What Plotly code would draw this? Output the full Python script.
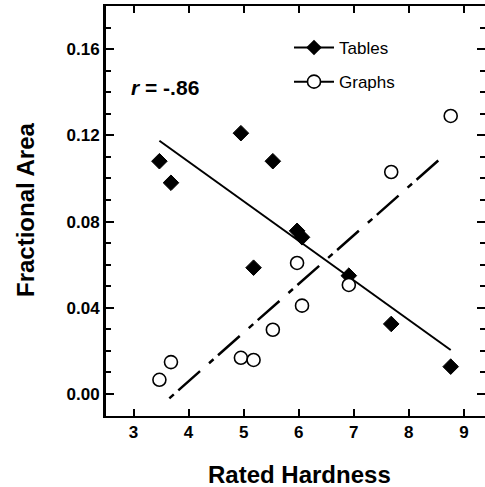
import plotly.graph_objects as go

# Data
rated_hardness = [3.47, 3.68, 4.95, 5.18, 5.53, 5.97, 6.06, 6.91, 7.68, 8.76]
tables_area = [0.108, 0.098, 0.121, 0.0586, 0.108, 0.0757, 0.0727, 0.0549, 0.0325, 0.0127]
graphs_area = [0.0066, 0.0148, 0.0168, 0.0158, 0.0298, 0.0608, 0.041, 0.0506, 0.103, 0.129]

# regression line endpoints
tables_fit_x = [3.47, 8.76]
tables_fit_y = [0.1175, 0.0204]
graphs_fit_x = [3.65, 8.68]
graphs_fit_y = [-0.002, 0.1116]

x_ticks = [3, 4, 5, 6, 7, 8, 9]
y_ticks = [0.00, 0.04, 0.08, 0.12, 0.16]

FONT = "Liberation Sans, Arial, sans-serif"

W, H = 485, 487
L, T, R, B = 106, 6, 0, 71
PW = W - L - R
PH = H - T - B


def px(sx):
    return (sx - L) / PW


def py(sy):
    return (H - B - sy) / PH


fig = go.Figure()

fig.add_trace(go.Scatter(x=tables_fit_x, y=tables_fit_y, mode="lines",
                         line=dict(color="black", width=2), showlegend=False))
fig.add_trace(go.Scatter(x=graphs_fit_x, y=graphs_fit_y, mode="lines",
                         line=dict(color="black", width=2.5, dash="6px,6px,29px,12px"),
                         showlegend=False))
fig.add_trace(go.Scatter(x=rated_hardness, y=tables_area, mode="markers",
                         marker=dict(symbol="diamond", size=12, color="black",
                                     line=dict(color="black", width=1)),
                         showlegend=False))
fig.add_trace(go.Scatter(x=rated_hardness, y=graphs_area, mode="markers",
                         marker=dict(symbol="circle", size=13, color="white",
                                     line=dict(color="black", width=1.6)),
                         showlegend=False))

# legend entries
fig.add_trace(go.Scatter(x=[None], y=[None], mode="lines+markers", name="Tables",
                         legendgroup="a",
                         line=dict(color="black", width=2),
                         marker=dict(symbol="diamond", size=12, color="black")))
fig.add_trace(go.Scatter(x=[None], y=[None], mode="lines+markers", name="Graphs",
                         legendgroup="b",
                         line=dict(color="black", width=2),
                         marker=dict(symbol="circle", size=13, color="white",
                                     line=dict(color="black", width=1.6))))

fig.update_layout(
    width=W, height=H,
    margin=dict(l=L, r=R, t=T, b=B, pad=0, autoexpand=False),
    paper_bgcolor="white", plot_bgcolor="white",
    font=dict(family=FONT, color="black"),
    legend=dict(x=px(289), y=py(30), xanchor="left", yanchor="top",
                font=dict(size=17, family=FONT), bgcolor="rgba(0,0,0,0)",
                tracegroupgap=9, traceorder="grouped", itemwidth=40),
    showlegend=True,
)

fig.update_xaxes(
    range=[2.5, 9.383], tickvals=x_ticks, ticktext=[str(v) for v in x_ticks],
    ticks="inside", ticklen=7, tickwidth=1.5, tickcolor="black",
    showline=True, linewidth=2, linecolor="black", mirror="ticks",
    showgrid=False, zeroline=False, automargin=False,
    tickfont=dict(size=17, family=FONT, weight="bold"),
)
fig.update_yaxes(
    range=[-0.0102, 0.18], tickvals=y_ticks, ticktext=[f"{v:.2f}" for v in y_ticks],
    ticks="inside", ticklen=8, tickwidth=1.5, tickcolor="black",
    minor=dict(dtick=0.01, tick0=0, ticks="inside", ticklen=5, tickwidth=1.5, tickcolor="black"),
    showline=True, linewidth=3, linecolor="black", mirror="ticks",
    showgrid=False, zeroline=False, automargin=False,
    tickfont=dict(size=17, family=FONT, weight="bold"),
)

fig.add_annotation(text="Rated Hardness", xref="paper", yref="paper",
                   x=px(299), y=py(475), xanchor="center", yanchor="middle",
                   showarrow=False, font=dict(size=24, family=FONT, weight="bold"))
fig.add_annotation(text="Fractional Area", xref="paper", yref="paper",
                   x=px(25), y=py(210), xanchor="center", yanchor="middle",
                   textangle=-90, showarrow=False, font=dict(size=24, family=FONT, weight="bold"))
fig.add_annotation(text="<i>r</i> = -.86", xref="paper", yref="paper",
                   x=px(129), y=py(88), xanchor="left", yanchor="middle",
                   showarrow=False, font=dict(size=21, family=FONT, weight="bold"))

fig.write_html(
    "out.html",
    config={"displayModeBar": False},
    post_script="document.body.style.margin='0px';document.body.style.overflow='hidden';",
)
